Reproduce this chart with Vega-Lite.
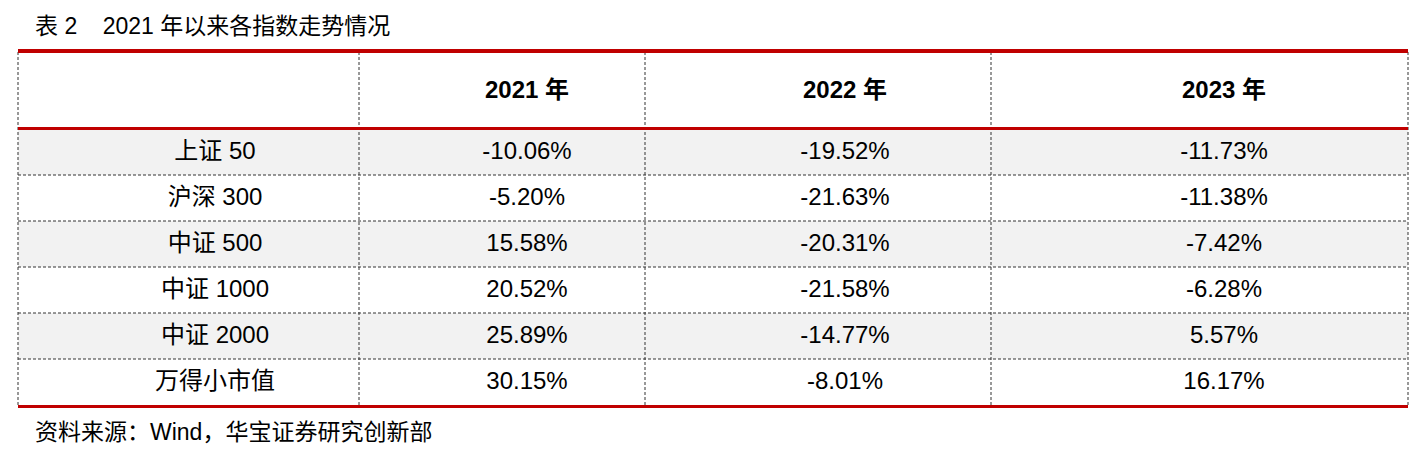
{
  "$schema": "https://vega.github.io/schema/vega-lite/v6.json",
  "width": 1426,
  "height": 460,
  "autosize": {"type": "fit", "contains": "padding"},
  "padding": 0,
  "background": "white",
  "config": {"view": {"stroke": null}, "text": {"font": "Liberation Sans, Noto Sans CJK SC", "fontSize": 24, "color": "#000"}},
  "datasets": {
    "rows": [
      {"name": "上证 50", "2021 年": "-10.06%", "2022 年": "-19.52%", "2023 年": "-11.73%"},
      {"name": "沪深 300", "2021 年": "-5.20%", "2022 年": "-21.63%", "2023 年": "-11.38%"},
      {"name": "中证 500", "2021 年": "15.58%", "2022 年": "-20.31%", "2023 年": "-7.42%"},
      {"name": "中证 1000", "2021 年": "20.52%", "2022 年": "-21.58%", "2023 年": "-6.28%"},
      {"name": "中证 2000", "2021 年": "25.89%", "2022 年": "-14.77%", "2023 年": "5.57%"},
      {"name": "万得小市值", "2021 年": "30.15%", "2022 年": "-8.01%", "2023 年": "16.17%"}
    ],
    "one": [{}]
  },
  "data": {"name": "rows"},
  "encoding": {
    "y": {
      "field": "name", "type": "nominal", "sort": null, "axis": null,
      "scale": {"type": "band", "domain": ["上证 50", "沪深 300", "中证 500", "中证 1000", "中证 2000", "万得小市值"], "range": [129, 405], "paddingInner": 0, "paddingOuter": 0}
    }
  },
  "layer": [
    {
      "transform": [{"filter": {"field": "name", "oneOf": ["上证 50", "中证 500", "中证 2000"]}}],
      "mark": {"type": "rect", "color": "#f2f2f2"},
      "encoding": {"x": {"value": 18}, "x2": {"value": 1408}}
    },
    {
      "transform": [{"filter": "datum.name != '万得小市值'"}],
      "mark": {"type": "rule", "color": "#333", "strokeDash": [3, 2], "strokeWidth": 1},
      "encoding": {"y": {"field": "name", "type": "nominal", "sort": null, "bandPosition": 1}, "x": {"value": 18}, "x2": {"value": 1408}}
    },
    {"data": {"name": "one"}, "mark": {"type": "rule", "color": "#333", "strokeDash": [3, 2]}, "encoding": {"x": {"value": 18}, "y": {"value": 52}, "y2": {"value": 406}}},
    {"data": {"name": "one"}, "mark": {"type": "rule", "color": "#333", "strokeDash": [3, 2]}, "encoding": {"x": {"value": 359}, "y": {"value": 52}, "y2": {"value": 406}}},
    {"data": {"name": "one"}, "mark": {"type": "rule", "color": "#333", "strokeDash": [3, 2]}, "encoding": {"x": {"value": 645}, "y": {"value": 52}, "y2": {"value": 406}}},
    {"data": {"name": "one"}, "mark": {"type": "rule", "color": "#333", "strokeDash": [3, 2]}, "encoding": {"x": {"value": 991}, "y": {"value": 52}, "y2": {"value": 406}}},
    {"data": {"name": "one"}, "mark": {"type": "rule", "color": "#333", "strokeDash": [3, 2]}, "encoding": {"x": {"value": 1408}, "y": {"value": 52}, "y2": {"value": 406}}},
    {"data": {"name": "one"}, "mark": {"type": "rule", "color": "#c00000", "strokeWidth": 4}, "encoding": {"x": {"value": 18}, "x2": {"value": 1408}, "y": {"value": 51}}},
    {"data": {"name": "one"}, "mark": {"type": "rule", "color": "#c00000", "strokeWidth": 3}, "encoding": {"x": {"value": 18}, "x2": {"value": 1408}, "y": {"value": 128.5}}},
    {"data": {"name": "one"}, "mark": {"type": "rule", "color": "#c00000", "strokeWidth": 3}, "encoding": {"x": {"value": 18}, "x2": {"value": 1408}, "y": {"value": 406.5}}},
    {"mark": {"type": "text", "align": "center", "baseline": "middle"}, "encoding": {"text": {"field": "name"}, "x": {"value": 215}}},
    {"mark": {"type": "text", "align": "center", "baseline": "middle"}, "encoding": {"text": {"field": "2021 年"}, "x": {"value": 527}}},
    {"mark": {"type": "text", "align": "center", "baseline": "middle"}, "encoding": {"text": {"field": "2022 年"}, "x": {"value": 845}}},
    {"mark": {"type": "text", "align": "center", "baseline": "middle"}, "encoding": {"text": {"field": "2023 年"}, "x": {"value": 1224}}},
    {"data": {"name": "one"}, "mark": {"type": "text", "align": "center", "baseline": "middle", "fontWeight": "bold"}, "encoding": {"text": {"value": "2021 年"}, "x": {"value": 527}, "y": {"value": 91}}},
    {"data": {"name": "one"}, "mark": {"type": "text", "align": "center", "baseline": "middle", "fontWeight": "bold"}, "encoding": {"text": {"value": "2022 年"}, "x": {"value": 845}, "y": {"value": 91}}},
    {"data": {"name": "one"}, "mark": {"type": "text", "align": "center", "baseline": "middle", "fontWeight": "bold"}, "encoding": {"text": {"value": "2023 年"}, "x": {"value": 1224}, "y": {"value": 91}}},
    {"data": {"name": "one"}, "mark": {"type": "text", "align": "left", "baseline": "middle", "fontSize": 23}, "encoding": {"text": {"value": "表 2\u00a0\u00a0\u00a0\u00a02021 年以来各指数走势情况"}, "x": {"value": 35}, "y": {"value": 27}}},
    {"data": {"name": "one"}, "mark": {"type": "text", "align": "left", "baseline": "middle", "fontSize": 23}, "encoding": {"text": {"value": "资料来源：Wind，华宝证券研究创新部"}, "x": {"value": 35}, "y": {"value": 433}}}
  ]
}
